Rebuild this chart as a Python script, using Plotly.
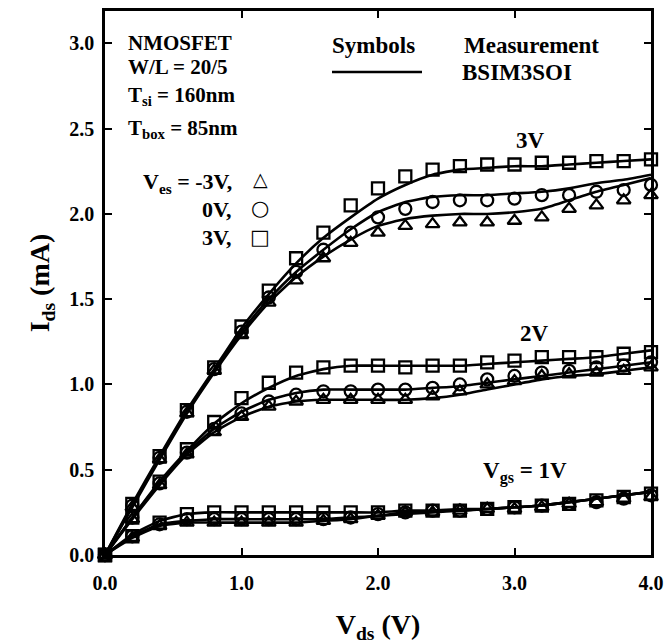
import plotly.graph_objects as go

# ---------------- data ----------------
vds = [0.0, 0.2, 0.4, 0.6, 0.8, 1.0, 1.2, 1.4, 1.6, 1.8, 2.0,
       2.2, 2.4, 2.6, 2.8, 3.0, 3.2, 3.4, 3.6, 3.8, 4.0]

# Measurement (symbols), Vgs = 3V
meas_vgs3_ves_m3 = [0, 0.28, 0.56, 0.83, 1.08, 1.29, 1.48, 1.61, 1.74, 1.83, 1.89,
                    1.93, 1.94, 1.95, 1.95, 1.96, 1.98, 2.03, 2.05, 2.08, 2.11]
meas_vgs3_ves_0 = [0, 0.29, 0.57, 0.84, 1.09, 1.31, 1.51, 1.66, 1.79, 1.89, 1.98,
                   2.03, 2.07, 2.08, 2.08, 2.09, 2.11, 2.11, 2.13, 2.14, 2.17]
meas_vgs3_ves_3 = [0, 0.30, 0.58, 0.85, 1.10, 1.34, 1.55, 1.74, 1.89, 2.05, 2.15,
                   2.22, 2.26, 2.28, 2.29, 2.29, 2.30, 2.30, 2.31, 2.31, 2.32]
# Vgs = 2V
meas_vgs2_ves_m3 = [0, 0.21, 0.41, 0.59, 0.72, 0.81, 0.87, 0.90, 0.91, 0.91, 0.91,
                    0.91, 0.93, 0.96, 1.00, 1.02, 1.05, 1.06, 1.07, 1.08, 1.10]
meas_vgs2_ves_0 = [0, 0.22, 0.42, 0.60, 0.74, 0.83, 0.90, 0.94, 0.96, 0.96, 0.97,
                   0.97, 0.98, 1.00, 1.03, 1.05, 1.07, 1.08, 1.10, 1.11, 1.13]
meas_vgs2_ves_3 = [0, 0.22, 0.43, 0.62, 0.78, 0.92, 1.01, 1.07, 1.10, 1.11, 1.11,
                   1.10, 1.11, 1.11, 1.13, 1.14, 1.16, 1.16, 1.16, 1.18, 1.19]
# Vgs = 1V
meas_vgs1_ves_m3 = [0, 0.10, 0.17, 0.19, 0.19, 0.19, 0.19, 0.19, 0.20, 0.21, 0.23,
                    0.25, 0.25, 0.26, 0.27, 0.27, 0.28, 0.30, 0.31, 0.33, 0.34]
meas_vgs1_ves_0 = [0, 0.11, 0.18, 0.21, 0.21, 0.21, 0.21, 0.21, 0.21, 0.22, 0.24,
                   0.25, 0.26, 0.26, 0.27, 0.28, 0.29, 0.30, 0.31, 0.33, 0.35]
meas_vgs1_ves_3 = [0, 0.11, 0.19, 0.24, 0.25, 0.25, 0.25, 0.25, 0.25, 0.25, 0.25,
                   0.26, 0.26, 0.26, 0.27, 0.28, 0.29, 0.30, 0.32, 0.34, 0.36]

# BSIM3SOI model (lines)
model_vgs3_ves_m3 = [0, 0.28, 0.56, 0.83, 1.07, 1.29, 1.48, 1.63, 1.75, 1.85, 1.93,
                     1.97, 1.99, 2.00, 2.00, 2.01, 2.03, 2.08, 2.13, 2.17, 2.21]
model_vgs3_ves_0 = [0, 0.29, 0.57, 0.84, 1.08, 1.31, 1.50, 1.66, 1.79, 1.91, 2.01,
                    2.07, 2.10, 2.11, 2.11, 2.12, 2.13, 2.15, 2.18, 2.20, 2.23]
model_vgs3_ves_3 = [0, 0.30, 0.58, 0.85, 1.09, 1.33, 1.53, 1.71, 1.86, 1.98, 2.09,
                    2.17, 2.23, 2.26, 2.27, 2.28, 2.28, 2.29, 2.30, 2.31, 2.32]
model_vgs2_ves_m3 = [0, 0.21, 0.41, 0.59, 0.72, 0.81, 0.87, 0.90, 0.91, 0.91, 0.91,
                     0.91, 0.92, 0.94, 0.97, 1.00, 1.03, 1.05, 1.06, 1.08, 1.10]
model_vgs2_ves_0 = [0, 0.22, 0.42, 0.60, 0.74, 0.84, 0.91, 0.95, 0.97, 0.97, 0.97,
                    0.97, 0.98, 0.99, 1.01, 1.03, 1.05, 1.07, 1.09, 1.11, 1.13]
model_vgs2_ves_3 = [0, 0.22, 0.43, 0.61, 0.77, 0.89, 0.98, 1.05, 1.09, 1.11, 1.11,
                    1.11, 1.11, 1.11, 1.12, 1.13, 1.14, 1.15, 1.16, 1.18, 1.20]
model_vgs1_ves_m3 = [0, 0.10, 0.17, 0.19, 0.19, 0.19, 0.19, 0.19, 0.20, 0.21, 0.23,
                     0.24, 0.25, 0.26, 0.27, 0.28, 0.29, 0.31, 0.33, 0.35, 0.37]
model_vgs1_ves_0 = [0, 0.11, 0.18, 0.20, 0.21, 0.21, 0.21, 0.21, 0.21, 0.22, 0.23,
                    0.25, 0.26, 0.26, 0.27, 0.28, 0.29, 0.31, 0.33, 0.35, 0.37]
model_vgs1_ves_3 = [0, 0.12, 0.20, 0.24, 0.25, 0.25, 0.25, 0.25, 0.25, 0.25, 0.25,
                    0.26, 0.26, 0.27, 0.27, 0.28, 0.29, 0.31, 0.33, 0.35, 0.37]

x_ticks = [0, 1, 2, 3, 4]
y_ticks = [0, 0.5, 1.0, 1.5, 2.0, 2.5, 3.0]

# ---------------- figure ----------------
SERIF = "Liberation Serif"
fig = go.Figure()

models = [model_vgs3_ves_m3, model_vgs3_ves_0, model_vgs3_ves_3,
          model_vgs2_ves_m3, model_vgs2_ves_0, model_vgs2_ves_3,
          model_vgs1_ves_m3, model_vgs1_ves_0, model_vgs1_ves_3]
for m in models:
    fig.add_trace(go.Scatter(x=vds, y=m, mode="lines",
                             line=dict(color="black", width=2.6, shape="spline", smoothing=0.5),
                             showlegend=False, hoverinfo="skip", cliponaxis=False))

meas = [(meas_vgs3_ves_m3, "triangle-up-open"), (meas_vgs3_ves_0, "circle-open"), (meas_vgs3_ves_3, "square-open"),
        (meas_vgs2_ves_m3, "triangle-up-open"), (meas_vgs2_ves_0, "circle-open"), (meas_vgs2_ves_3, "square-open"),
        (meas_vgs1_ves_m3, "triangle-up-open"), (meas_vgs1_ves_0, "circle-open"), (meas_vgs1_ves_3, "square-open")]
for ys, sym in meas:
    fig.add_trace(go.Scatter(x=vds, y=ys, mode="markers",
                             marker=dict(symbol=sym, size=12, color="black", line=dict(width=2.3, color="black")),
                             showlegend=False, cliponaxis=False))

L, R, T, B = 105, 15, 11, 89
W, H = 666, 644
pw, ph = W - L - R, H - T - B


def px(xp):
    return (xp - L) / pw


def py(yp):
    return (H - B - yp) / ph


ann = []


def add(text, x, y, xanchor="left", size=21, family=SERIF):
    ann.append(dict(text=text, x=px(x), y=py(y), xref="paper", yref="paper",
                    xanchor=xanchor, yanchor="middle", showarrow=False,
                    font=dict(family=family, size=size, color="black", weight="bold")))


add("NMOSFET", 126, 43)
add("W/L = 20/5", 126, 67)
add("T<sub>si</sub> = 160nm", 126, 96)
add("T<sub>box</sub> = 85nm", 126, 129)
add("V<sub>es</sub> = -3V,", 234, 183, xanchor="right", size=22)
add("0V,", 234, 209, xanchor="right", size=22)
add("3V,", 234, 238, xanchor="right", size=22)
add("△", 260, 179, xanchor="center", size=19, family="DejaVu Sans")
add("○", 260, 208, xanchor="center", size=21, family="DejaVu Sans")
add("□", 260, 237, xanchor="center", size=21, family="DejaVu Sans")
add("Symbols", 330, 45, size=23)
add("Measurement", 462, 45, size=23)
add("BSIM3SOI", 460, 72, size=23)
add("3V", 530, 140, xanchor="center", size=23)
add("2V", 534, 333, xanchor="center", size=23)
add("V<sub>gs</sub> = 1V", 525, 472, xanchor="center", size=23)

fig.add_shape(type="line", xref="paper", yref="paper",
              x0=px(332), x1=px(422), y0=py(72), y1=py(72),
              line=dict(color="black", width=2.6))

axis_common = dict(showline=True, linecolor="black", linewidth=2.6, mirror="ticks",
                   ticks="inside", ticklen=7, tickwidth=2, tickcolor="black",
                   showgrid=False, zeroline=False, tickformat=".1f", automargin=False,
                   tickfont=dict(family=SERIF, size=20, color="black", weight="bold"))

fig.update_layout(
    width=W, height=H,
    margin=dict(l=L, r=R, t=T, b=B),
    paper_bgcolor="white", plot_bgcolor="white",
    annotations=ann,
    xaxis=dict(range=[0, 4], tickvals=x_ticks, ticklabelstandoff=8, **axis_common,
               title=dict(text="V<sub>ds</sub> (V)", standoff=28,
                          font=dict(family=SERIF, size=28, color="black", weight="bold"))),
    yaxis=dict(range=[0, 3.19], tickvals=y_ticks, ticklabelstandoff=4, **axis_common,
               title=dict(text="I<sub>ds</sub> (mA)", standoff=12,
                          font=dict(family=SERIF, size=28, color="black", weight="bold"))),
)

fig.write_html("out.html")
